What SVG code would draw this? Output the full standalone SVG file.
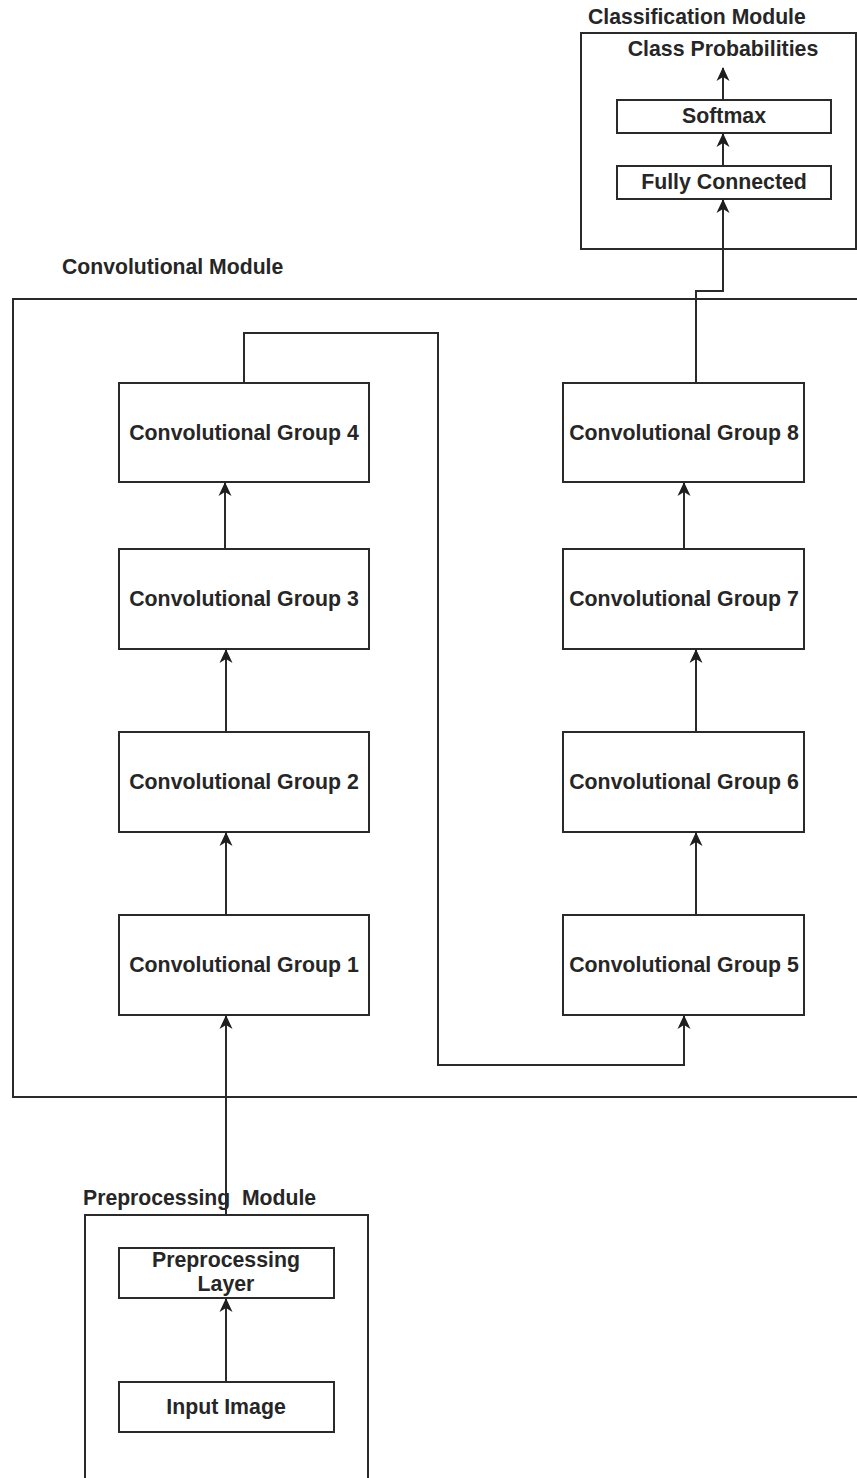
<svg xmlns="http://www.w3.org/2000/svg" width="857" height="1478" viewBox="0 0 857 1478">
<style>
.box{fill:#fff;stroke:#2a2a2a;stroke-width:2}
.mod{fill:none;stroke:#2a2a2a;stroke-width:2}
.t{font-family:"Liberation Sans",Arial,sans-serif;font-weight:bold;font-size:21.3px;fill:#262626;text-anchor:middle}
.lbl{font-family:"Liberation Sans",Arial,sans-serif;font-weight:bold;font-size:21.2px;fill:#262626;white-space:pre}
.c{fill:none;stroke:#2a2a2a;stroke-width:2}
</style>
<defs>
<marker id="ah" viewBox="0 0 14 14" refX="13" refY="7" markerWidth="14" markerHeight="14" markerUnits="userSpaceOnUse" orient="auto">
<path d="M0,0.5 L14,7 L0,13.5 L4,7 z" fill="#1e1e1e"/>
</marker>
</defs>

<g id="classification-module">
<rect class="mod" x="581" y="33" width="275" height="216"/>
<text class="lbl" x="588" y="24">Classification Module</text>
</g>
<g id="class-probabilities"><text class="t" x="723" y="56">Class Probabilities</text></g>
<g id="softmax"><rect class="box" x="617" y="100" width="214" height="33"/><text class="t" x="724" y="123">Softmax</text></g>
<g id="fully-connected"><rect class="box" x="617" y="166" width="214" height="33"/><text class="t" x="724" y="189">Fully Connected</text></g>

<g id="convolutional-module">
<rect class="mod" x="13" y="299" width="845" height="798"/>
<text class="lbl" x="62" y="274">Convolutional Module</text>
</g>

<g id="conv-group-4"><rect class="box" x="119" y="383" width="250" height="99"/><text class="t" x="244" y="440">Convolutional Group 4</text></g>
<g id="conv-group-3"><rect class="box" x="119" y="549" width="250" height="100"/><text class="t" x="244" y="606">Convolutional Group 3</text></g>
<g id="conv-group-2"><rect class="box" x="119" y="732" width="250" height="100"/><text class="t" x="244" y="789">Convolutional Group 2</text></g>
<g id="conv-group-1"><rect class="box" x="119" y="915" width="250" height="100"/><text class="t" x="244" y="972">Convolutional Group 1</text></g>

<g id="conv-group-8"><rect class="box" x="563" y="383" width="241" height="99"/><text class="t" x="684" y="440">Convolutional Group 8</text></g>
<g id="conv-group-7"><rect class="box" x="563" y="549" width="241" height="100"/><text class="t" x="684" y="606">Convolutional Group 7</text></g>
<g id="conv-group-6"><rect class="box" x="563" y="732" width="241" height="100"/><text class="t" x="684" y="789">Convolutional Group 6</text></g>
<g id="conv-group-5"><rect class="box" x="563" y="915" width="241" height="100"/><text class="t" x="684" y="972">Convolutional Group 5</text></g>

<g id="preprocessing-module">
<rect class="mod" x="85" y="1215" width="283" height="270"/>
<text class="lbl" x="83" y="1205" xml:space="preserve">Preprocessing  Module</text>
</g>
<g id="preprocessing-layer"><rect class="box" x="119" y="1248" width="215" height="50"/><text class="t" x="226" y="1267">Preprocessing</text><text class="t" x="226" y="1291">Layer</text></g>
<g id="input-image"><rect class="box" x="119" y="1382" width="215" height="50"/><text class="t" x="226" y="1414">Input Image</text></g>

<g id="connectors">
<path class="c" d="M226,1382 L226,1299" marker-end="url(#ah)"/>
<path class="c" d="M226,1215 L226,1016" marker-end="url(#ah)"/>
<path class="c" d="M226,915 L226,833" marker-end="url(#ah)"/>
<path class="c" d="M226,732 L226,650" marker-end="url(#ah)"/>
<path class="c" d="M225,549 L225,483" marker-end="url(#ah)"/>
<path class="c" d="M244,383 L244,333 L438,333 L438,1065 L684,1065 L684,1016" marker-end="url(#ah)"/>
<path class="c" d="M696,915 L696,833" marker-end="url(#ah)"/>
<path class="c" d="M696,732 L696,650" marker-end="url(#ah)"/>
<path class="c" d="M684,549 L684,483" marker-end="url(#ah)"/>
<path class="c" d="M696,383 L696,291 L723,291 L723,200" marker-end="url(#ah)"/>
<path class="c" d="M723,166 L723,134" marker-end="url(#ah)"/>
<path class="c" d="M723,100 L723,68" marker-end="url(#ah)"/>
</g>
</svg>
